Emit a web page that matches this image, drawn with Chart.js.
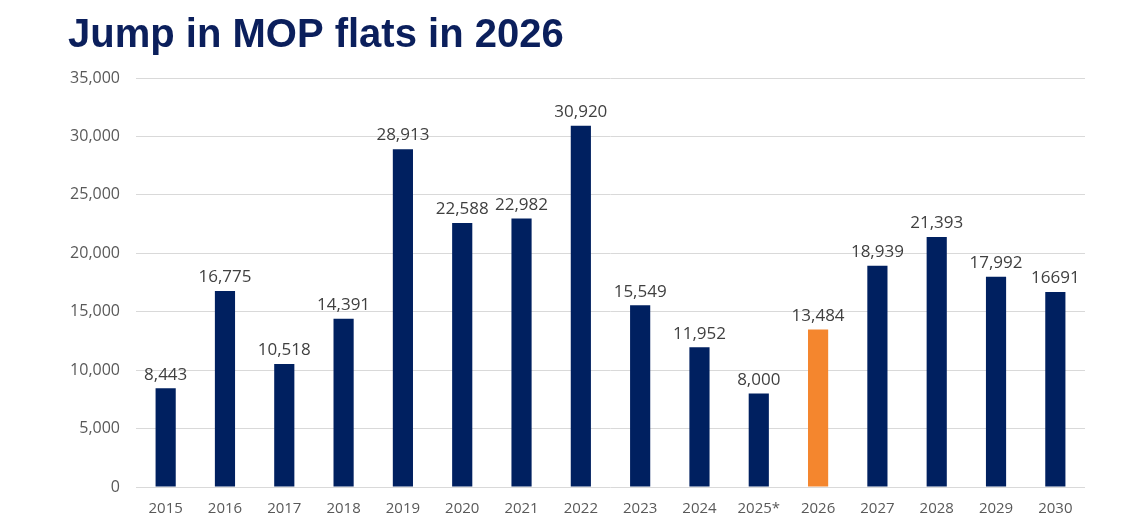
<!DOCTYPE html>
<html>
<head>
<meta charset="utf-8">
<script src="https://cdn.jsdelivr.net/npm/chart.js@4"></script>
<style>
  html, body { margin: 0; padding: 0; background: #fff; }
  #wrap { width: 1135px; height: 525px; }
</style>
</head>
<body>
<div id="wrap"><canvas id="mopChart"></canvas></div>
<script>
// MOP flats per year
const years = ['2015', '2016', '2017', '2018', '2019', '2020', '2021', '2022',
               '2023', '2024', '2025*', '2026', '2027', '2028', '2029', '2030'];
const flats = [8443, 16775, 10518, 14391, 28913, 22588, 22982, 30920,
               15549, 11952, 8000, 13484, 18939, 21393, 17992, 16691];
const valueLabels = ['8,443', '16,775', '10,518', '14,391', '28,913', '22,588', '22,982', '30,920',
                     '15,549', '11,952', '8,000', '13,484', '18,939', '21,393', '17,992', '16691'];
const highlightYear = '2026';
const yTicks = [0, 5000, 10000, 15000, 20000, 25000, 30000, 35000];

const NAVY = '#002060';
const ORANGE = '#F4862E';

// 棒の上に値を描く
const barValuePlugin = {
    id: 'barValues',
    afterDatasetsDraw(chart) {
        const ctx = chart.ctx;
        const meta = chart.getDatasetMeta(0);
        ctx.save();
        ctx.font = '17px "Open Sans", sans-serif';
        ctx.fillStyle = '#404040';
        ctx.textAlign = 'center';
        ctx.textBaseline = 'bottom';
        meta.data.forEach((bar, i) => {
            ctx.fillText(valueLabels[i], bar.x, bar.y - 5);
        });
        ctx.restore();
    }
};

new Chart(document.getElementById('mopChart'), {
    type: 'bar',
    data: {
        labels: years,
        datasets: [{
            data: flats,
            backgroundColor: years.map(y => y === highlightYear ? ORANGE : NAVY),
            barPercentage: 0.34,
            categoryPercentage: 1.0
        }]
    },
    options: {
        responsive: true,
        maintainAspectRatio: false,
        animation: false,
        layout: { padding: { left: 68, right: 50, top: 8, bottom: 2 } },
        plugins: {
            legend: { display: false },
            tooltip: { enabled: false },
            title: {
                display: true,
                text: 'Jump in MOP flats in 2026',
                align: 'start',
                color: '#0B1F5C',
                font: { family: '"Liberation Sans", Arial, sans-serif', size: 40, weight: 'bold' },
                padding: { top: 4, bottom: 18 }
            }
        },
        scales: {
            x: {
                grid: { display: false },
                border: { display: false },
                ticks: {
                    color: '#595959',
                    font: { family: '"Open Sans", sans-serif', size: 15 },
                    padding: 5,
                    maxRotation: 0
                }
            },
            y: {
                min: 0,
                max: 35000,
                afterBuildTicks(axis) {
                    axis.ticks = yTicks.map(v => ({ value: v }));
                },
                afterFit(axis) {
                    axis.width = 68;
                },
                grid: { color: '#D9D9D9', drawTicks: false },
                border: { display: false },
                ticks: {
                    color: '#595959',
                    font: { family: '"Open Sans", sans-serif', size: 16 },
                    padding: 16,
                    callback: v => v.toLocaleString('en-US')
                }
            }
        }
    },
    plugins: [barValuePlugin]
});
</script>
</body>
</html>
